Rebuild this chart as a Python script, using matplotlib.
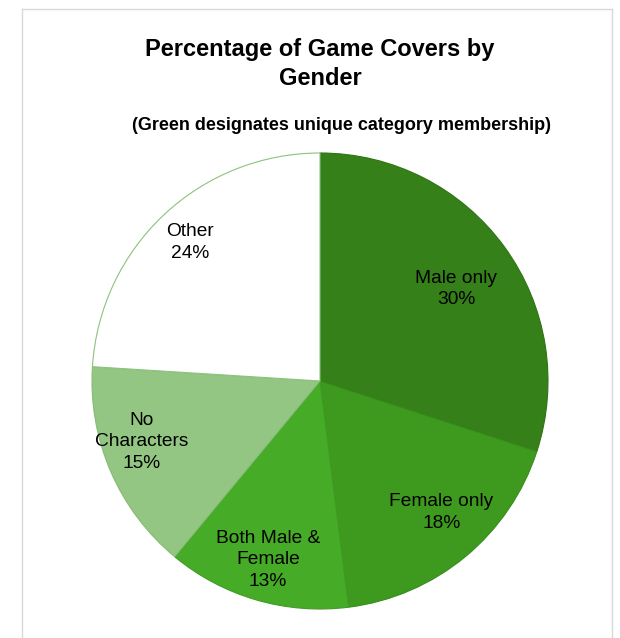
import numpy as np
import matplotlib.pyplot as plt
from matplotlib.lines import Line2D

plt.rcParams['font.family'] = ['Liberation Sans', 'DejaVu Sans']

# data, clockwise from 12 o'clock
categories = ['Male only', 'Female only', 'Both Male &\nFemale', 'No\nCharacters', 'Other']
shares = [30, 18, 13, 15, 24]
colors = ['#358019', '#3e9a1f', '#46ab26', '#93c683', '#ffffff']
edges = ['#2f7316', '#378c1b', '#3f9c22', '#86bb76', '#8dc27c']
# label placement (Excel "best fit"): radius fraction and angle nudge in degrees
label_r = [0.72, 0.785, 0.816, 0.825, 0.834]
label_dang = [-2, 3, 0, -4.5, 0]

fig = plt.figure(figsize=(6.2, 6.38), dpi=100)
W, H = 620, 638

# chart frame (light grey, open at the bottom)
fc = '#d9d9d9'
fig.add_artist(Line2D([22 / W, 22 / W], [0, 1 - 9 / H], color=fc, lw=1))
fig.add_artist(Line2D([612 / W, 612 / W], [0, 1 - 9 / H], color=fc, lw=1))
fig.add_artist(Line2D([22 / W, 612 / W], [1 - 9 / H, 1 - 9 / H], color=fc, lw=1))

fig.text(320 / W, 1 - 64 / H, 'Percentage of Game Covers by\nGender', ha='center', va='center',
         fontsize=17, fontweight='bold', linespacing=1.3)
fig.text(341 / W, 1 - 126 / H, '(Green designates unique category membership)', ha='center',
         va='center', fontsize=13, fontweight='bold')

cx, cy, r = 320, 381, 228
ax = fig.add_axes([(cx - r) / W, (H - cy - r) / H, 2 * r / W, 2 * r / H])
wedges, _ = ax.pie(shares, colors=colors, startangle=90, counterclock=False, radius=1,
                   wedgeprops=dict(linewidth=0.8))
for w, ec in zip(wedges, edges):
    w.set_edgecolor(ec)

for w, cat, val, lr, da in zip(wedges, categories, shares, label_r, label_dang):
    ang = np.deg2rad((w.theta1 + w.theta2) / 2 + da)
    ax.text(lr * np.cos(ang), lr * np.sin(ang), f'{cat}\n{val}%', ha='center', va='center',
            fontsize=13.8, linespacing=1.35)

ax.set_xlim(-1, 1)
ax.set_ylim(-1, 1)
ax.set_aspect('equal')
ax.axis('off')

fig.savefig('out.png', dpi=100)
